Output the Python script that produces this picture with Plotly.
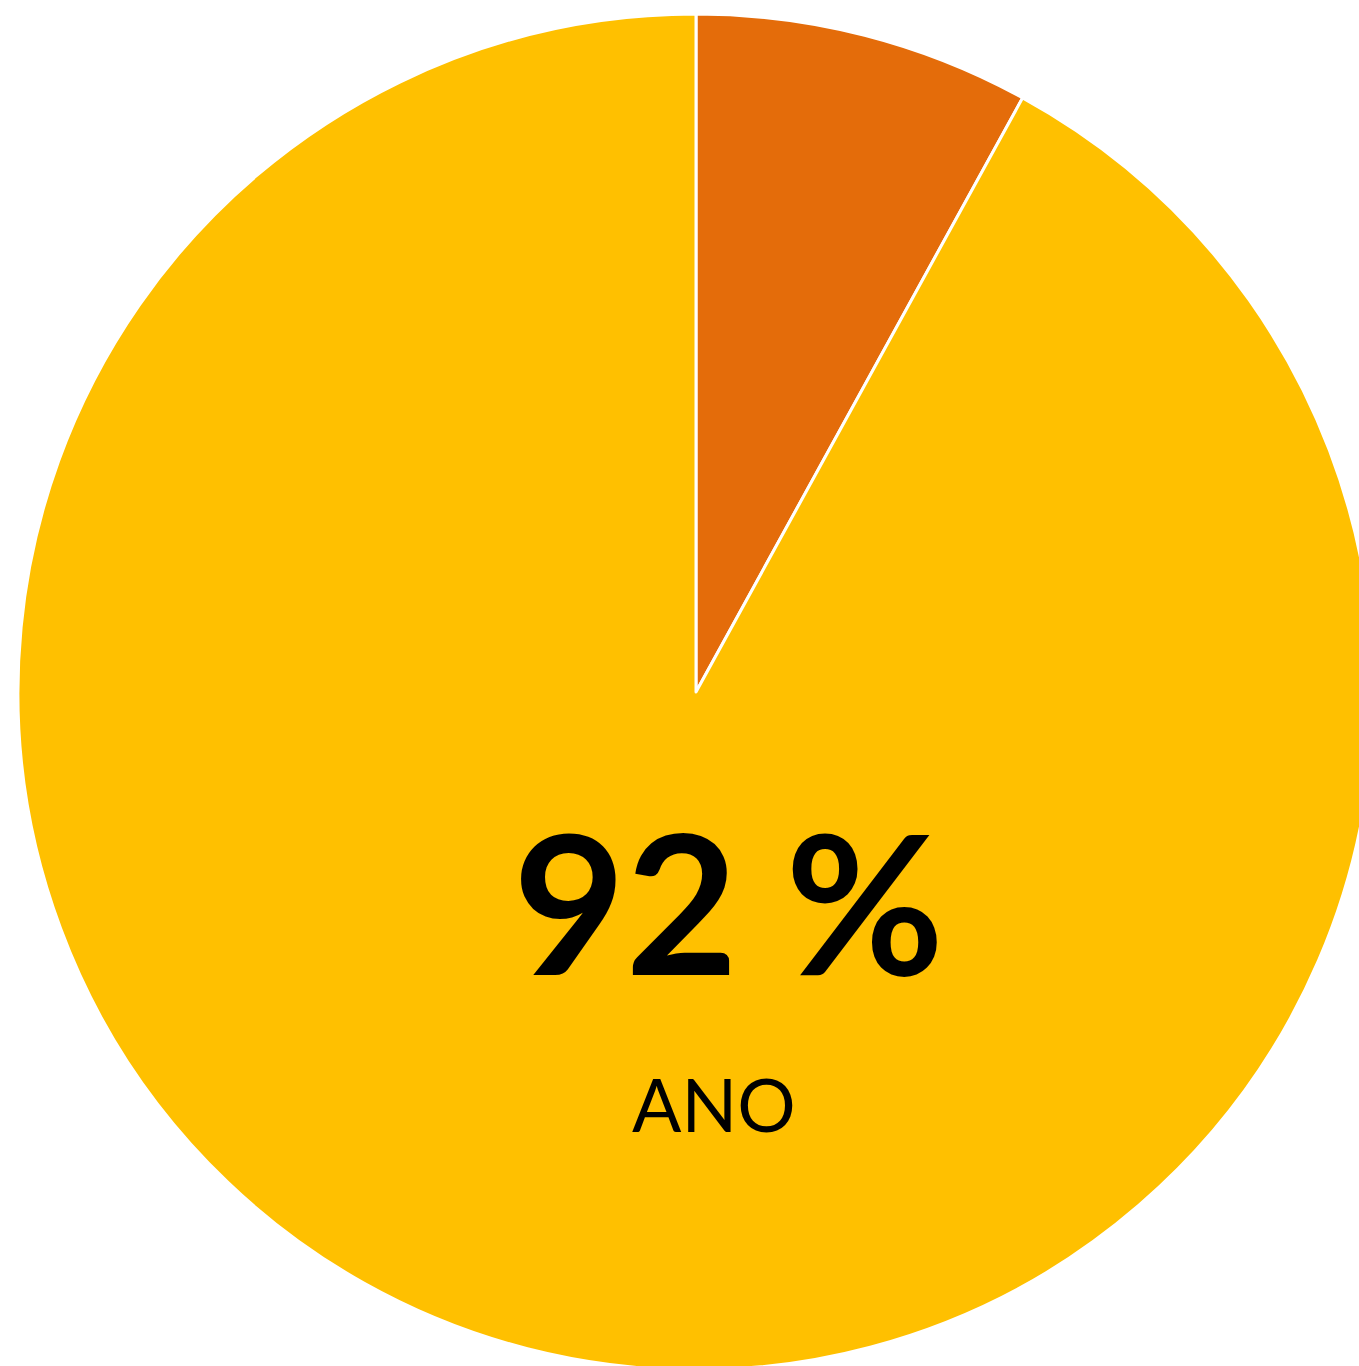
import plotly.graph_objects as go

labels = ["NE", "ANO"]
values = [8, 92]
colors = ["#E46C0A", "#FFC000"]

W, H = 1380, 1380
fig = go.Figure(go.Pie(
    labels=labels,
    values=values,
    sort=False,
    direction="clockwise",
    rotation=0,
    marker=dict(colors=colors, line=dict(color="white", width=3)),
    textinfo="none",
    hoverinfo="label+percent",
    showlegend=False,
    domain=dict(x=[0, 1], y=[0, 1]),
))

fig.add_annotation(
    text=f"<b>{values[1]} %</b>", x=0.5236, y=0.3468, xref="paper", yref="paper",
    showarrow=False, font=dict(family="Lato", size=194, color="black"),
    xanchor="center", yanchor="middle",
)
fig.add_annotation(
    text=labels[1], x=0.5136, y=0.1963, xref="paper", yref="paper",
    showarrow=False, font=dict(family="Lato", size=73, color="black"),
    xanchor="center", yanchor="middle",
)

fig.update_layout(
    width=W, height=H,
    margin=dict(l=18, t=14, r=6, b=10, pad=0),
    paper_bgcolor="white", plot_bgcolor="white",
)

fig.write_html(
    "out.html",
    config={"displayModeBar": False},
    post_script='document.body.style.margin="0";document.documentElement.style.overflow="hidden";',
)
